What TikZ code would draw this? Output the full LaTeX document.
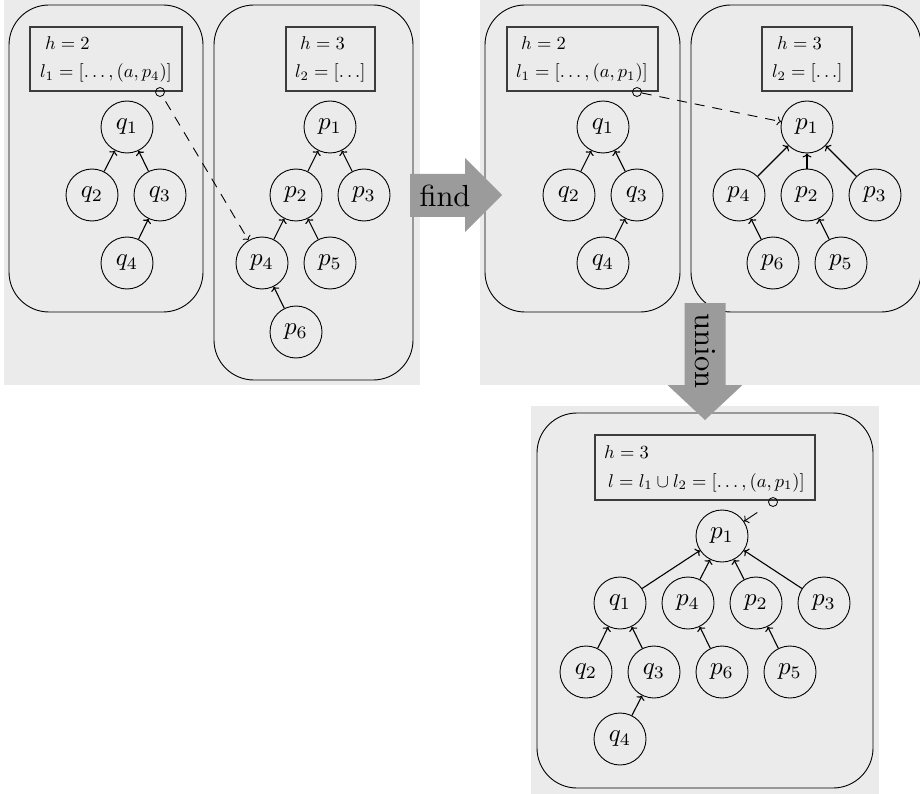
\documentclass[tikz,border=0pt]{standalone}
\usetikzlibrary{arrows.meta}
\definecolor{panelgray}{HTML}{EBEBEB}
\definecolor{arrowgray}{HTML}{9B9B9B}
\definecolor{boxline}{HTML}{3C3C3C}
% labels are set at 10pt and enlarged, which keeps the heavier strokes
\newcommand{\vtx}[1]{\scalebox{2.5}{$#1$}}
\newcommand{\infotxt}[1]{\scalebox{1.85}{$#1$}}
\newcommand{\optxt}[1]{\scalebox{3.05}{#1}}
\tikzset{
  vert/.style={circle, draw, line width=0.9pt, minimum size=52pt, inner sep=0pt},
  edge/.style={line width=1.1pt, -{To[length=4pt,width=9pt]}},
  group/.style={draw, line width=0.9pt, rounded corners=40pt},
  panel/.style={fill=panelgray},
  infobox/.style={draw=boxline, line width=1.1pt, inner sep=0pt},
  info/.style={anchor=base west, inner sep=0pt},
  ptr/.style={circle, draw, line width=0.8pt, minimum size=9pt, inner sep=0pt},
  link/.style={line width=0.9pt, dash pattern=on 10pt off 8pt, -{To[length=4pt,width=9pt]}},
  bigarrow/.style={fill=arrowgray},
  verb/.style={inner sep=0pt},
}
\begin{document}
\begin{tikzpicture}[x=1pt, y=-1pt]
\useasboundingbox (0,0) rectangle (920,794);
\clip (0,0) rectangle (920,794);

% ---------- panel 1: before find ----------
\fill[panel] (4,0) rectangle (420,385);
\draw[group] (9,5) rectangle (203,312);
\draw[group] (214,5) rectangle (413,380);
\node[infobox, minimum width=152pt, minimum height=64pt] (ia) at (106,59) {};
\node[info] (ia-h) at (45,50) {\infotxt{h=2}};
\node[info] (ia-l) at (40,78) {\infotxt{l_1=[\ldots,(a,p_4)]}};
\node[ptr] (ca) at (160,92) {};
\node[infobox, minimum width=89pt, minimum height=64pt] (ib) at (330.5,59) {};
\node[info] (ib-h) at (300,50) {\infotxt{h=3}};
\node[info] (ib-l) at (295,78) {\infotxt{l_2=[\ldots]}};

\node[vert] (aq1) at (127,127) {\vtx{q_1}};
\node[vert] (aq2) at (92,195) {\vtx{q_2}};
\node[vert] (aq3) at (160,195) {\vtx{q_3}};
\node[vert] (aq4) at (127,263) {\vtx{q_4}};
\node[vert] (ap1) at (330,127) {\vtx{p_1}};
\node[vert] (ap2) at (296,195) {\vtx{p_2}};
\node[vert] (ap3) at (364,195) {\vtx{p_3}};
\node[vert] (ap4) at (262,263) {\vtx{p_4}};
\node[vert] (ap5) at (330,263) {\vtx{p_5}};
\node[vert] (ap6) at (296,332) {\vtx{p_6}};
\draw[edge] (aq2) -- (aq1);
\draw[edge] (aq3) -- (aq1);
\draw[edge] (aq4) -- (aq3);
\draw[edge] (ap2) -- (ap1);
\draw[edge] (ap3) -- (ap1);
\draw[edge] (ap4) -- (ap2);
\draw[edge] (ap5) -- (ap2);
\draw[edge] (ap6) -- (ap4);
\draw[link, dash phase=12pt] (ca) -- (ap4);

% ---------- panel 2: after find ----------
\fill[panel] (480,0) rectangle (920,385);
\draw[group] (485,5) rectangle (680,312);
\draw[group] (691,5) rectangle (921,312);
\node[infobox, minimum width=151pt, minimum height=64pt] (ic) at (582.5,59) {};
\node[info] (ic-h) at (521,50) {\infotxt{h=2}};
\node[info] (ic-l) at (516,78) {\infotxt{l_1=[\ldots,(a,p_1)]}};
\node[ptr] (cc) at (637,92) {};
\node[infobox, minimum width=90pt, minimum height=64pt] (id) at (807,59) {};
\node[info] (id-h) at (777,50) {\infotxt{h=3}};
\node[info] (id-l) at (772,78) {\infotxt{l_2=[\ldots]}};

\node[vert] (bq1) at (603,127) {\vtx{q_1}};
\node[vert] (bq2) at (569,195) {\vtx{q_2}};
\node[vert] (bq3) at (637,195) {\vtx{q_3}};
\node[vert] (bq4) at (603,263) {\vtx{q_4}};
\node[vert] (bp1) at (807,127) {\vtx{p_1}};
\node[vert] (bp4) at (739,195) {\vtx{p_4}};
\node[vert] (bp2) at (807,195) {\vtx{p_2}};
\node[vert] (bp3) at (875,195) {\vtx{p_3}};
\node[vert] (bp6) at (773,263) {\vtx{p_6}};
\node[vert] (bp5) at (841,263) {\vtx{p_5}};
\draw[edge] (bq2) -- (bq1);
\draw[edge] (bq3) -- (bq1);
\draw[edge] (bq4) -- (bq3);
\draw[edge] (bp4) -- (bp1);
\draw[edge] (bp2) -- (bp1);
\draw[edge] (bp3) -- (bp1);
\draw[edge] (bp6) -- (bp4);
\draw[edge] (bp5) -- (bp2);
\draw[link] (cc) -- (bp1);

% ---------- panel 3: after union ----------
\fill[panel] (531,406) rectangle (879,794);
\draw[group] (537,413) rectangle (873,788);
\node[infobox, minimum width=220pt, minimum height=65pt] (ie) at (705,467.5) {};
\node[info] (ie-h) at (604,458) {\infotxt{h=3}};
\node[info] (ie-l) at (608,487) {\infotxt{l=l_1\cup l_2=[\ldots,(a,p_1)]}};
\node[ptr] (ce) at (773,502) {};

\node[vert] (cp1) at (722,536) {\vtx{p_1}};
\node[vert] (cq1) at (620,603) {\vtx{q_1}};
\node[vert] (cp4) at (688,603) {\vtx{p_4}};
\node[vert] (cp2) at (756,603) {\vtx{p_2}};
\node[vert] (cp3) at (824,603) {\vtx{p_3}};
\node[vert] (cq2) at (586,672) {\vtx{q_2}};
\node[vert] (cq3) at (654,672) {\vtx{q_3}};
\node[vert] (cp6) at (722,672) {\vtx{p_6}};
\node[vert] (cp5) at (790,672) {\vtx{p_5}};
\node[vert] (cq4) at (620,739) {\vtx{q_4}};
\draw[edge] (cq1) -- (cp1);
\draw[edge] (cp4) -- (cp1);
\draw[edge] (cp2) -- (cp1);
\draw[edge] (cp3) -- (cp1);
\draw[edge] (cq2) -- (cq1);
\draw[edge] (cq3) -- (cq1);
\draw[edge] (cp6) -- (cp4);
\draw[edge] (cp5) -- (cp2);
\draw[edge] (cq4) -- (cq3);
\draw[link, dash pattern=on 20pt off 14pt, dash phase=20pt] (ce) -- (cp1);

% ---------- operation arrows ----------
\fill[bigarrow] (410,174) -- (465,174) -- (465,158) -- (502,195) -- (465,232)
  -- (465,217) -- (410,217) -- cycle;
\node[verb, anchor=base] (find) at (445,207) {\optxt{find}};
\fill[bigarrow] (684.5,303) -- (725.5,303) -- (725.5,385) -- (742.5,385) -- (705,420)
  -- (667.5,385) -- (684.5,385) -- cycle;
\node[verb, rotate=-90] (union) at (705,351) {\optxt{union}};
\end{tikzpicture}
\end{document}
